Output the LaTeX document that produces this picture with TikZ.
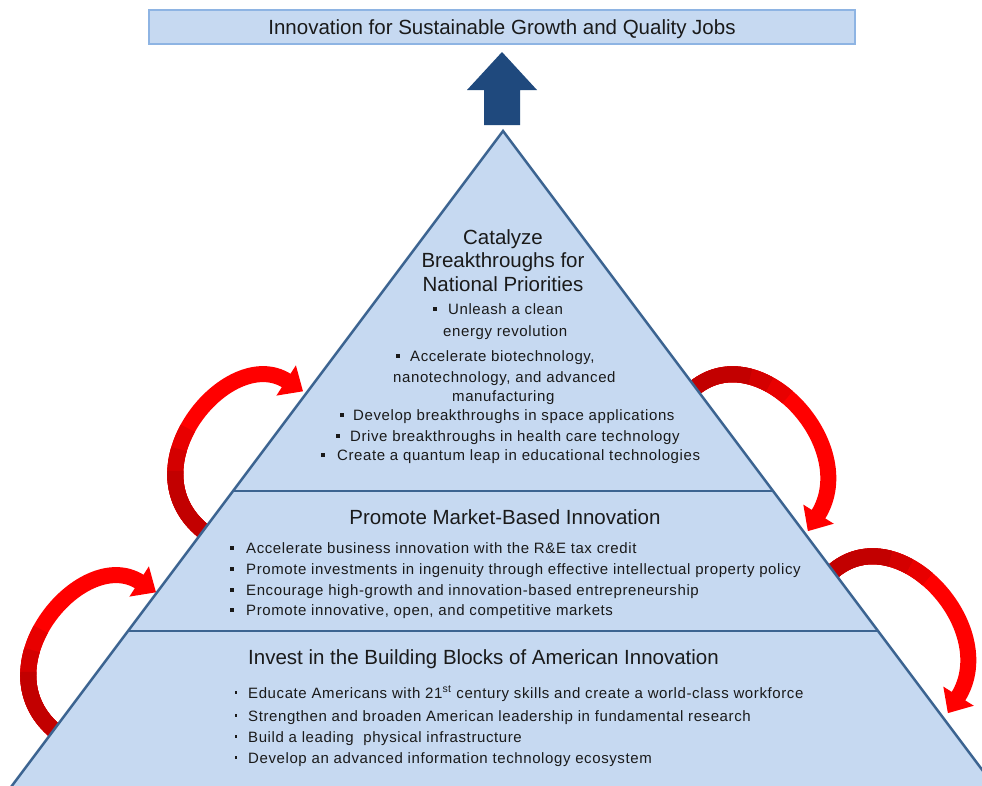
\documentclass[tikz,border=0pt]{standalone}
\usepackage{fontspec}
\setmainfont{Liberation Sans}
\newfontfamily\bodyf[LetterSpace=4]{Liberation Sans}
\usetikzlibrary{calc}
\definecolor{pyrfill}{HTML}{C6D9F1}
\definecolor{pyrline}{HTML}{3C6491}
\definecolor{boxline}{HTML}{8EB4E3}
\definecolor{navy}{HTML}{1F497D}
\definecolor{redA}{HTML}{FF0000}
\definecolor{redB}{HTML}{E80000}
\definecolor{redC}{HTML}{D40000}
\definecolor{redD}{HTML}{C20000}
\definecolor{textc}{HTML}{1A1A1A}
\tikzset{
  redband/.style={line width=16pt, draw=redA},
  redtip/.style={fill=redA},
  bodytxt/.style={anchor=base west, inner sep=0pt, text=textc, font=\bodyf\fontsize{15}{18}\selectfont},
  headtxt/.style={anchor=base, inner sep=0pt, text=textc, font=\fontsize{20.5}{24}\selectfont},
  bul/.style={rectangle, fill=textc, draw=none, inner sep=0pt, minimum size=4pt},
  smallbul/.style={rectangle, fill=textc, draw=none, inner sep=0pt, minimum size=2.8pt},
  titlebox/.style={rectangle, fill=pyrfill, draw=boxline, line width=1.3pt, minimum width=706pt, minimum height=34pt, inner sep=0pt, text height=17pt, text depth=3pt, text=textc, font=\fontsize{20.5}{24}\selectfont},
}
% first part [0,t] of the band curve, in a darker colour
\newcommand\segpart[3]{%
  \path ($(#1p0)!#2!(#1p1)$) coordinate (#1A)
        ($(#1p1)!#2!(#1p2)$) coordinate (#1B)
        ($(#1p2)!#2!(#1m)$) coordinate (#1C);
  \path ($(#1A)!#2!(#1B)$) coordinate (#1D)
        ($(#1B)!#2!(#1C)$) coordinate (#1E);
  \path ($(#1D)!#2!(#1E)$) coordinate (#1F);
  \draw[redband, draw=#3] (#1p0) .. controls (#1A) and (#1D) .. (#1F);
}
% curved red arrow: prefix, tail, control 1, control 2, head base
\newcommand\redarrow[5]{%
  \coordinate (#1p0) at #2;
  \coordinate (#1p1) at #3;
  \coordinate (#1p2) at #4;
  \coordinate (#1m) at #5;
  \coordinate (#1t) at ($(#1m)!-19pt!(#1p2)$);
  \coordinate (#1mb) at ($(#1m)!1pt!(#1p2)$);
  \coordinate (#1c1) at ($(#1mb)!18pt!90:(#1t)$);
  \coordinate (#1c2) at ($(#1mb)!18pt!-90:(#1t)$);
  \draw[redband] (#1p0) .. controls (#1p1) and (#1p2) .. (#1m);
  \fill[redtip] (#1t) -- (#1c1) -- (#1c2) -- cycle;
  \segpart{#1}{0.46}{redB}
  \segpart{#1}{0.37}{redC}
  \segpart{#1}{0.28}{redD}
}
\begin{document}
\begin{tikzpicture}[x=1pt,y=-1pt,line join=miter]
\useasboundingbox (0,0) rectangle (982,785);
\clip (0,0) rectangle (982,785);
\fill[white] (0,0) rectangle (982,785);

% red curved arrows (drawn under the pyramid)
\redarrow{ll}{(60,735)}{(-25,672)}{(81,544)}{(140,582)}
\redarrow{ul}{(207,534)}{(122,471)}{(228,343)}{(287,381)}
\redarrow{ur}{(690,392)}{(755,330)}{(862,445)}{(818,515)}
\redarrow{lr}{(830,574)}{(895,512)}{(1002,627)}{(958,697)}

% pyramid
\coordinate (apex) at (503,131);
\coordinate (bl) at (1.25,800);
\coordinate (br) at (1004.75,800);
\fill[pyrfill] (apex) -- (bl) -- (br) -- cycle;
\draw[pyrline, line width=2.5pt] (bl) -- (apex) -- (br);
\coordinate (l1a) at (233,491); \coordinate (l1b) at (773,491);
\coordinate (l2a) at (128,631); \coordinate (l2b) at (878,631);
\draw[pyrline, line width=2.5pt] (l1a) -- (l1b);
\draw[pyrline, line width=2.5pt] (l2a) -- (l2b);

% title and block arrow
\node[titlebox] (title) at (502,27) {Innovation for Sustainable Growth and Quality Jobs};
\fill[navy] (502,52) coordinate (bat) -- (537,90) -- (520,90) -- (520,125) -- (484,125) -- (484,90) -- (467,90) -- cycle;

% top tier
\node[headtxt] (h1a) at (503,244) {Catalyze};
\node[headtxt] (h1b) at (503,267) {Breakthroughs for};
\node[headtxt] (h1c) at (503,291) {National Priorities};
\node[bul] (b1) at (435,308.5) {};
\node[bodytxt] (t1) at (448,314) {Unleash a clean};
\node[bodytxt] (t2) at (443,336) {energy revolution};
\node[bul] (b3) at (398,356) {};
\node[bodytxt] (t3) at (410,361.5) {Accelerate biotechnology,};
\node[bodytxt] (t4) at (393,382) {nanotechnology, and advanced};
\node[bodytxt] (t5) at (452,401.5) {manufacturing};
\node[bul] (b6) at (342,414.5) {};
\node[bodytxt] (t6) at (353,420) {Develop breakthroughs in space applications};
\node[bul] (b7) at (338,436) {};
\node[bodytxt] (t7) at (350,441.5) {Drive breakthroughs in health care technology};
\node[bul] (b8) at (323,454.5) {};
\node[bodytxt] (t8) at (337,460) {Create a quantum leap in educational technologies};

% middle tier
\node[headtxt] (h2) at (505,524) {Promote Market-Based Innovation};
\node[bul] (mb1) at (232,547.5) {};
\node[bodytxt] (m1) at (246,553) {Accelerate business innovation with the R\&E tax credit};
\node[bul] (mb2) at (232,568.5) {};
\node[bodytxt] (m2) at (246,574) {Promote investments in ingenuity through effective intellectual property policy};
\node[bul] (mb3) at (232,589.5) {};
\node[bodytxt] (m3) at (246,595) {Encourage high-growth and innovation-based entrepreneurship};
\node[bul] (mb4) at (232,609.5) {};
\node[bodytxt] (m4) at (246,615) {Promote innovative, open, and competitive markets};

% bottom tier
\node[headtxt, anchor=base west] (h3) at (248,664) {Invest in the Building Blocks of American Innovation};
\node[smallbul] (nb1) at (236,692.5) {};
\node[bodytxt] (n1) at (248,698) {Educate Americans with 21\textsuperscript{st} century skills and create a world-class workforce};
\node[smallbul] (nb2) at (236,715.5) {};
\node[bodytxt] (n2) at (248,721) {Strengthen and broaden American leadership in fundamental research};
\node[smallbul] (nb3) at (236,736.5) {};
\node[bodytxt] (n3) at (248,742) {Build a leading~ physical infrastructure};
\node[smallbul] (nb4) at (236,757.5) {};
\node[bodytxt] (n4) at (248,763) {Develop an advanced information technology ecosystem};
\end{tikzpicture}
\end{document}
